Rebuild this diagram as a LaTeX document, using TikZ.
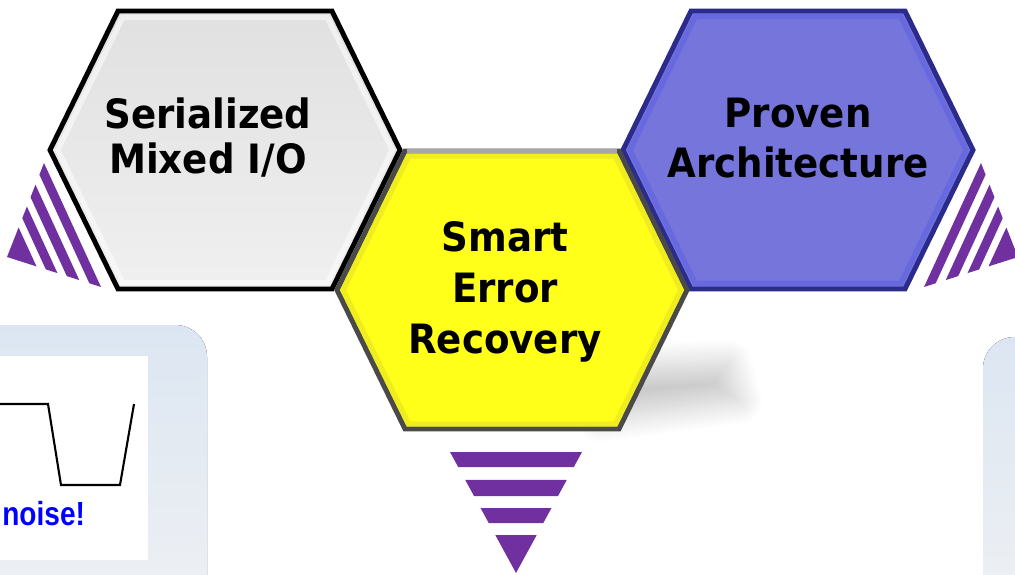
\documentclass[tikz,border=0pt]{standalone}
\usepackage{fontspec}
\usepackage{tikz}
\usetikzlibrary{calc}
\usetikzlibrary{shadows.blur}
\newfontfamily\hexfont[FakeStretch=0.92]{DejaVu Sans}
\newfontfamily\noisefont[FakeStretch=0.84]{Liberation Sans}
\definecolor{stripe}{RGB}{112,48,160}
\definecolor{hexyellow}{RGB}{255,255,26}
\definecolor{hexblue}{RGB}{117,117,220}
\definecolor{rimblue}{RGB}{43,43,140}
\definecolor{rimgray}{RGB}{74,74,74}
\definecolor{panel}{RGB}{220,230,242}
\definecolor{panelb}{RGB}{240,241,243}

\newcommand{\hexa}[2]{\draw[#2] (-175,0) -- (-107,-139) -- (107,-139) -- (175,0) -- (107,139) -- (-107,139) -- cycle;}
\newcommand{\stripes}[3]{%
  \fill[stripe] (#2) -- (#3) -- ($(#3)!0.124!(#1)$) -- ($(#2)!0.124!(#1)$) -- cycle;
  \fill[stripe] ($(#2)!0.231!(#1)$) -- ($(#3)!0.231!(#1)$) -- ($(#3)!0.364!(#1)$) -- ($(#2)!0.364!(#1)$) -- cycle;
  \fill[stripe] ($(#2)!0.463!(#1)$) -- ($(#3)!0.463!(#1)$) -- ($(#3)!0.587!(#1)$) -- ($(#2)!0.587!(#1)$) -- cycle;
  \fill[stripe] ($(#2)!0.686!(#1)$) -- ($(#3)!0.686!(#1)$) -- (#1) -- cycle;}

\begin{document}
\begin{tikzpicture}[x=0.02cm,y=-0.02cm,
    hexline/.style={line width=2.8pt,line join=miter},
    bevel/.style={line width=3pt,opacity=0.5},
    hextext/.style={font=\hexfont\bfseries\fontsize{23}{#1}\selectfont,align=center,inner sep=0pt,anchor=base}]
  \useasboundingbox (0,0) rectangle (1015,575);

  % side panels
  \fill[top color=panel,bottom color=panelb,rounded corners=18pt] (-40,325) rectangle (207,640);
  \fill[white] (-5,356) rectangle (148,560);
  \draw[line width=1.2pt,line join=miter] (-5,404) -- (48,404) -- (61,485) -- (120,485) -- (134,404);
  \node[text=blue,font=\noisefont\bfseries\fontsize{19}{22}\selectfont,anchor=base west,inner sep=0pt] (nz) at (2,525) {noise!};
  \fill[top color=panel,bottom color=panelb,rounded corners=18pt] (983,337) rectangle (1060,640);

  % striped triangles
  \coordinate (a1) at (7,257);
  \coordinate (b1) at (44,163);
  \coordinate (c1) at (101,287);
  \coordinate (a2) at (516,573);
  \coordinate (b2) at (450,452);
  \coordinate (c2) at (582,452);
  \coordinate (a3) at (1018,257);
  \coordinate (b3) at (981,163);
  \coordinate (c3) at (924,287);
  \stripes{a1}{b1}{c1}
  \stripes{a2}{b2}{c2}
  \stripes{a3}{b3}{c3}

  % hexagons
  \coordinate (g) at (225,150);
  \coordinate (y) at (512,290);
  \coordinate (b) at (798,150);
  \hexa{g}{hexline,shift={(g)},top color=gray!24,middle color=gray!32,bottom color=gray!12}
  \hexa{g}{bevel,white,shift={(g)},scale=0.955}
  \hexa{b}{hexline,draw=rimblue,fill=hexblue,shift={(b)}}
  \hexa{b}{bevel,blue!20!hexblue,shift={(b)},scale=0.96}
  \path[blur shadow={shadow xshift=0pt,shadow yshift=0pt,shadow blur radius=14pt,shadow blur steps=20,shadow opacity=22}]
    (600,368) -- (728,364) -- (738,400) -- (600,418) -- cycle;
  \hexa{y}{hexline,draw=rimgray,fill=hexyellow,shift={(y)}}
  \hexa{y}{bevel,yellow!80!black,shift={(y)},scale=0.965,opacity=0.35}
  \draw[line width=2.8pt,gray!70] ($(y)+(-105,-139)$) -- ($(y)+(105,-139)$);

  \node[hextext=25.5] (hx1) at (208,173) {Serialized\\Mixed I/O};
  \node[hextext=28.9] (hx2) at (505,353) {Smart\\Error\\Recovery};
  \node[hextext=28.3] (hx3) at (798,177) {Proven\\Architecture};
\end{tikzpicture}
\end{document}
